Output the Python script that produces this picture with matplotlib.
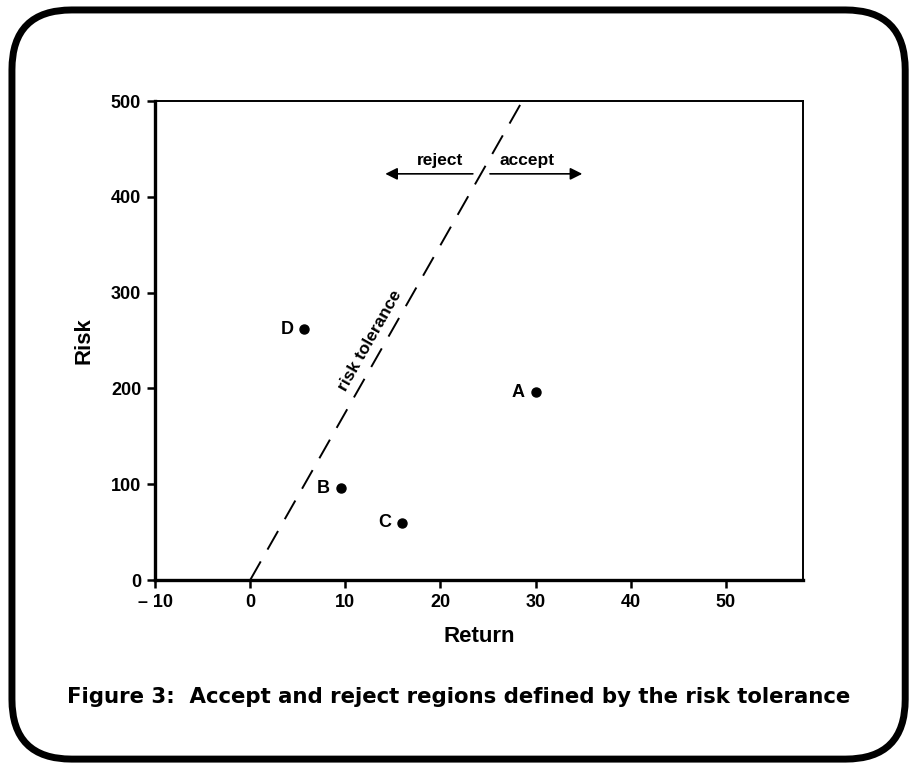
import matplotlib
matplotlib.use("Agg")
import matplotlib.pyplot as plt
from matplotlib.patches import FancyBboxPatch

plt.rcParams['font.family'] = ['Liberation Sans', 'DejaVu Sans']

# data
point_labels = ["A", "B", "C", "D"]
point_return = [30, 9.5, 16, 5.7]
point_risk = [196, 96, 60, 262]
tol_return = [0, 28.6]
tol_risk = [0, 500]
x_ticks = [-10, 0, 10, 20, 30, 40, 50]
x_ticklabels = ["\u2013 10", "0", "10", "20", "30", "40", "50"]
y_ticks = [0, 100, 200, 300, 400, 500]

fig = plt.figure(figsize=(9.19, 7.66), dpi=100)

# rounded frame
frame = FancyBboxPatch((0.013, 0.009), 0.972, 0.978,
                       boxstyle="round,pad=0,rounding_size=0.065",
                       transform=fig.transFigure, fill=False,
                       edgecolor="black", linewidth=5, mutation_aspect=919/766)
fig.patches.append(frame)

ax = fig.add_axes([0.1687, 0.2428, 0.7051, 0.6253])
ax.set_xlim(-10, 58.1)
ax.set_ylim(0, 500)

ax.plot(tol_return, tol_risk, color="black", lw=1.4, dashes=(11, 7))
ax.plot(point_return, point_risk, "o", color="black", ms=6.5)
for lab, xv, yv in zip(point_labels, point_return, point_risk):
    ax.annotate(lab, (xv, yv), xytext=(-8, 0), textcoords="offset points",
                ha="right", va="center", fontsize=13, fontweight="bold")

ax.text(12.6, 250, "risk tolerance", rotation=60.4, ha="center", va="center",
        fontsize=12.5, fontweight="bold", rotation_mode="anchor")

# accept / reject arrows
ax.annotate("", xy=(14.2, 424), xytext=(23.4, 424),
            arrowprops=dict(arrowstyle="-|>", color="black", lw=1.2,
                            mutation_scale=18, shrinkA=0, shrinkB=0))
ax.annotate("", xy=(34.9, 424), xytext=(25.2, 424),
            arrowprops=dict(arrowstyle="-|>", color="black", lw=1.2,
                            mutation_scale=18, shrinkA=0, shrinkB=0))
ax.text(20.0, 430, "reject", ha="center", va="bottom", fontsize=12.5, fontweight="bold")
ax.text(29.1, 430, "accept", ha="center", va="bottom", fontsize=12.5, fontweight="bold")

ax.set_xticks(x_ticks)
ax.set_xticklabels(x_ticklabels)
ax.set_yticks(y_ticks)
for lbl in ax.get_xticklabels() + ax.get_yticklabels():
    lbl.set_fontweight("bold")
    lbl.set_fontsize(13)
ax.tick_params(direction="out", length=6, width=1.8, pad=4)
ax.spines["left"].set_linewidth(2.4)
ax.spines["bottom"].set_linewidth(2.4)
ax.spines["top"].set_linewidth(1.4)
ax.spines["right"].set_linewidth(1.4)

ax.set_xlabel("Return", fontsize=16, fontweight="bold", labelpad=11)
ax.set_ylabel("Risk", fontsize=16, fontweight="bold", labelpad=12)

fig.text(0.499, 0.09, "Figure 3:  Accept and reject regions defined by the risk tolerance",
         ha="center", va="center", fontsize=15.3, fontweight="bold",
         family=["DejaVu Sans"])

fig.savefig("out.png", dpi=100)
